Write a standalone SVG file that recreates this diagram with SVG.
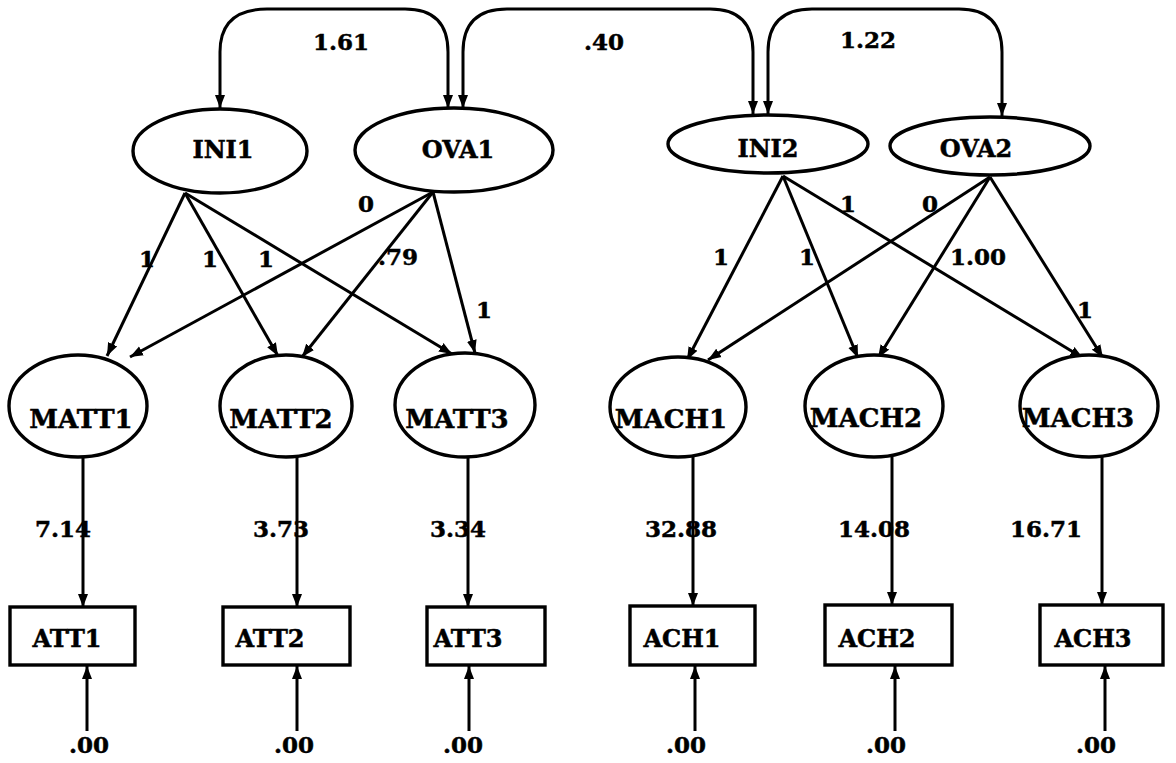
<svg xmlns="http://www.w3.org/2000/svg" width="1176" height="763" viewBox="0 0 1176 763">
  <style>
    .bg { fill: #ffffff; }
    .node { fill: #ffffff; stroke: #000000; stroke-width: 3.4; }
    .edge { fill: none; stroke: #000000; stroke-width: 3; }
    .lbl { font-family: "DejaVu Serif", "Liberation Serif", serif; font-weight: bold; fill: #000000; stroke: #000000; stroke-width: 0.5; }
    .top { font-size: 24px; text-anchor: middle; }
    .mid { font-size: 26px; text-anchor: middle; }
    .box { font-size: 24px; text-anchor: middle; }
    .num { font-size: 23px; }
    .numc { font-size: 23px; text-anchor: middle; }
  </style>
  <defs>
    <marker id="arrow" markerUnits="userSpaceOnUse" markerWidth="14" markerHeight="11" refX="13" refY="5.5" orient="auto-start-reverse">
      <path d="M0,0.5 L13,5.5 L0,10.5 z" fill="#000000"/>
    </marker>
  </defs>

  <rect class="bg" x="0" y="0" width="1176" height="763"/>

  <!-- connectors -->
  <g id="connectors">
    <!-- covariances (two-headed) -->
    <path class="edge" d="M220,108 L220,52 Q220,9 267,9 L405,9 Q448,9 448,52 L448,108" marker-start="url(#arrow)" marker-end="url(#arrow)"/>
    <path class="edge" d="M463,108 L463,52 Q463,9 507,9 L710,9 Q753,9 753,52 L753,114" marker-start="url(#arrow)" marker-end="url(#arrow)"/>
    <path class="edge" d="M768,114 L768,52 Q768,9 812,9 L959,9 Q1002,9 1002,52 L1002,116" marker-start="url(#arrow)" marker-end="url(#arrow)"/>

    <!-- INI1 loadings -->
    <line class="edge" x1="185" y1="193" x2="107" y2="356" marker-end="url(#arrow)"/>
    <line class="edge" x1="185" y1="193" x2="278" y2="356" marker-end="url(#arrow)"/>
    <line class="edge" x1="185" y1="193" x2="452" y2="354" marker-end="url(#arrow)"/>
    <!-- OVA1 loadings -->
    <line class="edge" x1="433" y1="192" x2="130" y2="357" marker-end="url(#arrow)"/>
    <line class="edge" x1="433" y1="192" x2="302" y2="357" marker-end="url(#arrow)"/>
    <line class="edge" x1="433" y1="192" x2="475" y2="353" marker-end="url(#arrow)"/>
    <!-- INI2 loadings -->
    <line class="edge" x1="783" y1="176" x2="687" y2="360" marker-end="url(#arrow)"/>
    <line class="edge" x1="783" y1="176" x2="858" y2="358" marker-end="url(#arrow)"/>
    <line class="edge" x1="783" y1="176" x2="1083" y2="358" marker-end="url(#arrow)"/>
    <!-- OVA2 loadings -->
    <line class="edge" x1="990" y1="177" x2="708" y2="360" marker-end="url(#arrow)"/>
    <line class="edge" x1="990" y1="177" x2="878" y2="358" marker-end="url(#arrow)"/>
    <line class="edge" x1="990" y1="177" x2="1103" y2="358" marker-end="url(#arrow)"/>

    <!-- latent to indicator -->
    <line class="edge" x1="83" y1="457" x2="83" y2="607" marker-end="url(#arrow)"/>
    <line class="edge" x1="297" y1="457" x2="297" y2="607" marker-end="url(#arrow)"/>
    <line class="edge" x1="468" y1="457" x2="468" y2="607" marker-end="url(#arrow)"/>
    <line class="edge" x1="693" y1="457" x2="693" y2="606" marker-end="url(#arrow)"/>
    <line class="edge" x1="892" y1="457" x2="892" y2="605" marker-end="url(#arrow)"/>
    <line class="edge" x1="1102" y1="457" x2="1102" y2="605" marker-end="url(#arrow)"/>

    <!-- error terms -->
    <line class="edge" x1="87" y1="731" x2="87" y2="666" marker-end="url(#arrow)"/>
    <line class="edge" x1="297" y1="731" x2="297" y2="666" marker-end="url(#arrow)"/>
    <line class="edge" x1="469" y1="731" x2="469" y2="666" marker-end="url(#arrow)"/>
    <line class="edge" x1="695" y1="731" x2="695" y2="666" marker-end="url(#arrow)"/>
    <line class="edge" x1="895" y1="731" x2="895" y2="666" marker-end="url(#arrow)"/>
    <line class="edge" x1="1105" y1="731" x2="1105" y2="666" marker-end="url(#arrow)"/>
  </g>

  <!-- connector values -->
  <g id="values" class="lbl">
    <text class="num" x="313" y="50">1.61</text>
    <text class="num" x="584" y="50">.40</text>
    <text class="num" x="840" y="48">1.22</text>

    <text class="num" x="139" y="267">1</text>
    <text class="num" x="202" y="267">1</text>
    <text class="num" x="258" y="267">1</text>
    <text class="num" x="358" y="212">0</text>
    <text class="num" x="378" y="265">.79</text>
    <text class="num" x="476" y="318">1</text>

    <text class="num" x="713" y="265">1</text>
    <text class="num" x="799" y="265">1</text>
    <text class="num" x="840" y="212">1</text>
    <text class="num" x="922" y="212">0</text>
    <text class="num" x="950" y="265">1.00</text>
    <text class="num" x="1077" y="318">1</text>

    <text class="num" x="35" y="537">7.14</text>
    <text class="num" x="253" y="537">3.73</text>
    <text class="num" x="430" y="537">3.34</text>
    <text class="num" x="645" y="537">32.88</text>
    <text class="num" x="838" y="537">14.08</text>
    <text class="num" x="1010" y="537">16.71</text>

    <text class="numc" x="89" y="753">.00</text>
    <text class="numc" x="294" y="753">.00</text>
    <text class="numc" x="463" y="753">.00</text>
    <text class="numc" x="686" y="753">.00</text>
    <text class="numc" x="886" y="753">.00</text>
    <text class="numc" x="1096" y="753">.00</text>
  </g>

  <!-- first-order factors -->
  <g id="INI1"><ellipse class="node" cx="220" cy="151" rx="87" ry="42"/><text class="lbl top" x="223" y="158">INI1</text></g>
  <g id="OVA1"><ellipse class="node" cx="454" cy="150" rx="99" ry="42"/><text class="lbl top" x="458" y="158">OVA1</text></g>
  <g id="INI2"><ellipse class="node" cx="768" cy="144" rx="100" ry="29"/><text class="lbl top" x="768" y="157">INI2</text></g>
  <g id="OVA2"><ellipse class="node" cx="990" cy="146" rx="100" ry="29"/><text class="lbl top" x="976" y="157">OVA2</text></g>

  <!-- occasion-specific latent variables -->
  <g id="MATT1"><ellipse class="node" cx="78" cy="406" rx="69" ry="51"/><text class="lbl mid" x="81" y="428">MATT1</text></g>
  <g id="MATT2"><ellipse class="node" cx="286" cy="406" rx="66" ry="51"/><text class="lbl mid" x="281" y="428">MATT2</text></g>
  <g id="MATT3"><ellipse class="node" cx="465" cy="405" rx="70" ry="52"/><text class="lbl mid" x="457" y="428">MATT3</text></g>
  <g id="MACH1"><ellipse class="node" cx="678" cy="407" rx="68" ry="50"/><text class="lbl mid" x="671" y="428">MACH1</text></g>
  <g id="MACH2"><ellipse class="node" cx="874" cy="406" rx="69" ry="51"/><text class="lbl mid" x="866" y="427">MACH2</text></g>
  <g id="MACH3"><ellipse class="node" cx="1089" cy="406" rx="69" ry="51"/><text class="lbl mid" x="1078" y="427">MACH3</text></g>

  <!-- observed indicators -->
  <g id="ATT1"><rect class="node" x="10" y="607" width="125" height="58"/><text class="lbl box" x="67" y="647">ATT1</text></g>
  <g id="ATT2"><rect class="node" x="223" y="607" width="127" height="58"/><text class="lbl box" x="270" y="647">ATT2</text></g>
  <g id="ATT3"><rect class="node" x="427" y="607" width="118" height="58"/><text class="lbl box" x="468" y="647">ATT3</text></g>
  <g id="ACH1"><rect class="node" x="630" y="606" width="125" height="59"/><text class="lbl box" x="682" y="647">ACH1</text></g>
  <g id="ACH2"><rect class="node" x="825" y="605" width="127" height="60"/><text class="lbl box" x="877" y="647">ACH2</text></g>
  <g id="ACH3"><rect class="node" x="1040" y="605" width="123" height="60"/><text class="lbl box" x="1093" y="647">ACH3</text></g>
</svg>
